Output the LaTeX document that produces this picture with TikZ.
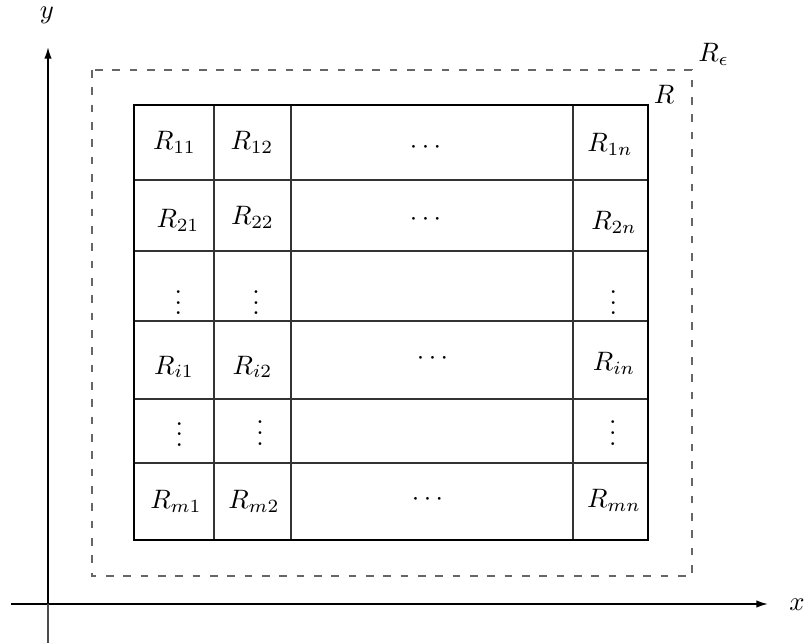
\documentclass[tikz,border=0pt]{standalone}
\usetikzlibrary{arrows.meta}
\begin{document}
\begin{tikzpicture}[x=0.375pt,y=-0.375pt,
  axis/.style={line width=0.65pt,-{Latex[length=4.4pt,width=2.8pt]}},
  frame/.style={line width=0.8pt},
  gridline/.style={line width=0.4pt,black!80},
  outer/.style={black!60,line width=0.45pt,dash pattern=on 2.9pt off 3.6pt},
  lbl/.style={inner sep=0pt,anchor=base}]
\useasboundingbox (0,0) rectangle (807,643);

% axes
\coordinate (O) at (48,604);
\coordinate (xstart) at (11,604);
\coordinate (xend) at (768,604);
\coordinate (yend) at (48,47);
\coordinate (ybot) at (48,643);
\draw[axis] (xstart) -- (xend);
\draw[axis] (O) -- (yend);
\draw[line width=0.4pt,black!70] (O) -- (ybot);
\node[lbl] (xlab) at (797,610) {$x$};
\node[lbl] (ylab) at (47,18.5) {$y$};

% enlarged region R_epsilon
\draw[outer] (92,70) rectangle (692,576);
\node[lbl] (Reps) at (713.5,62) {$R_\epsilon$};

% partition grid of R
\foreach \x in {214,291,573} \draw[gridline] (\x,105) -- (\x,540);
\foreach \y in {180,251,321,399,463} \draw[gridline] (134,\y) -- (648,\y);
\draw[frame] (134,105) rectangle (648,540);
\node[lbl] (Rlab) at (664,104) {$R$};

% row 1
\node[lbl] (r11) at (174.5,150) {$R_{11}$};
\node[lbl] (r12) at (252,150) {$R_{12}$};
\node[lbl] (r1d) at (425.5,153.7) {$\cdots$};
\node[lbl] (r1n) at (610,152) {$R_{1n}$};
% row 2
\node[lbl] (r21) at (178,228) {$R_{21}$};
\node[lbl] (r22) at (252.5,225) {$R_{22}$};
\node[lbl] (r2d) at (425.5,226) {$\cdots$};
\node[lbl] (r2n) at (614,230) {$R_{2n}$};
% row 3
\node[lbl] (v31) at (178.3,315) {$\vdots$};
\node[lbl] (v32) at (256,315) {$\vdots$};
\node[lbl] (v3n) at (613.3,315) {$\vdots$};
% row i
\node[lbl] (ri1) at (174,374) {$R_{i1}$};
\node[lbl] (ri2) at (252.5,374) {$R_{i2}$};
\node[lbl] (rid) at (432.5,364.5) {$\cdots$};
\node[lbl] (rin) at (614,371) {$R_{in}$};
% row 5
\node[lbl] (v51) at (179.3,446.5) {$\vdots$};
\node[lbl] (v52) at (260,445) {$\vdots$};
\node[lbl] (v5n) at (612.7,445) {$\vdots$};
% row m
\node[lbl] (rm1) at (176,508) {$R_{m1}$};
\node[lbl] (rm2) at (254,508) {$R_{m2}$};
\node[lbl] (rmd) at (427.5,505) {$\cdots$};
\node[lbl] (rmn) at (614,507) {$R_{mn}$};
\end{tikzpicture}
\end{document}
